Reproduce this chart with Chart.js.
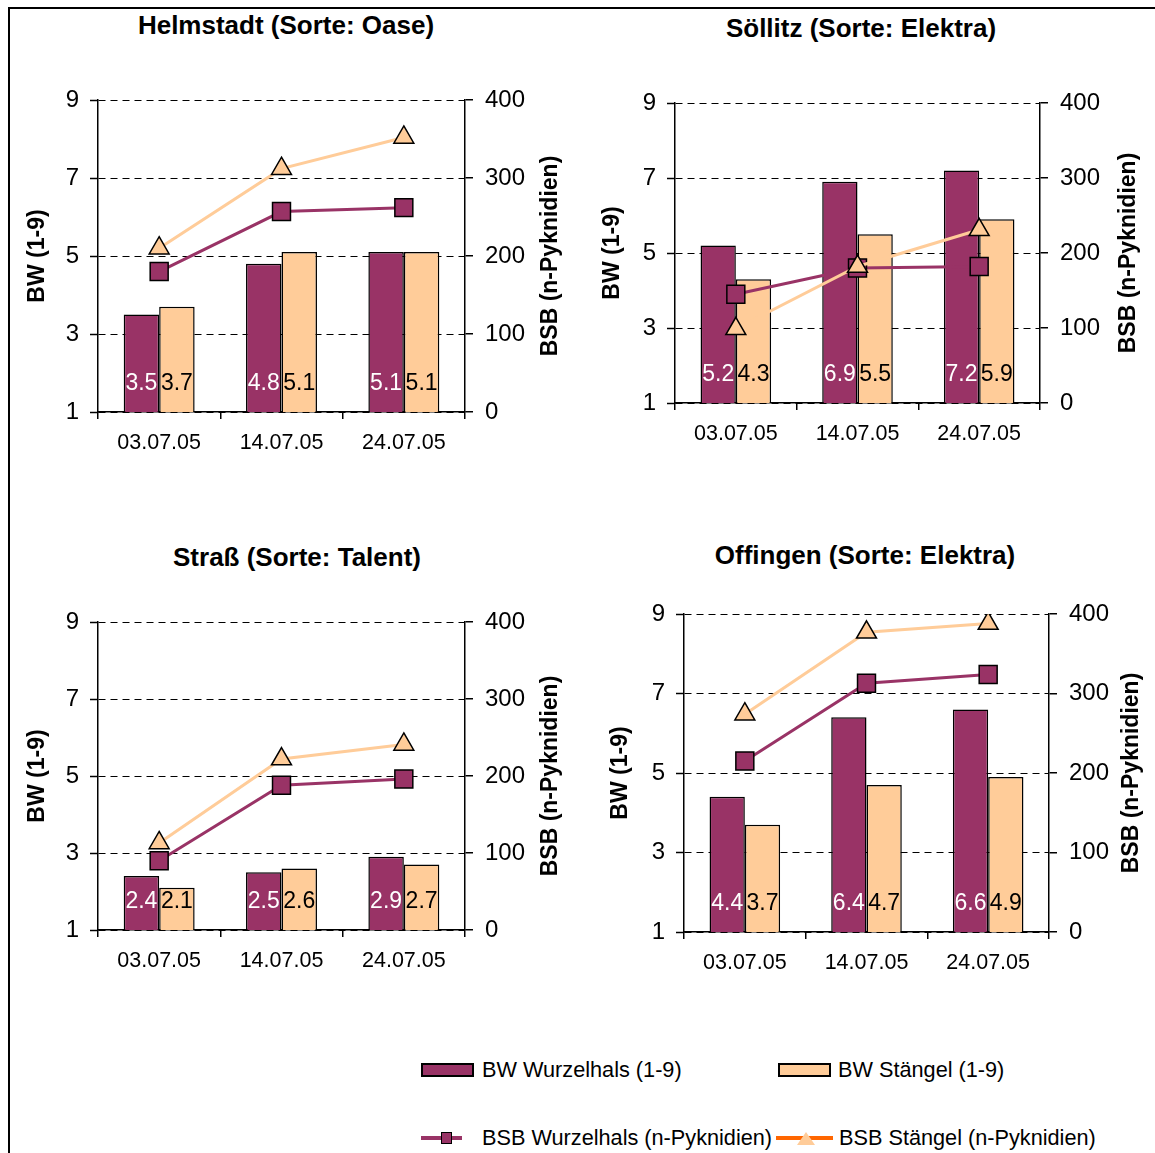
<!DOCTYPE html>
<html>
<head>
<meta charset="utf-8">
<script src="https://cdn.jsdelivr.net/npm/chart.js@4.4.0/dist/chart.umd.min.js"></script>
<style>
  body { margin: 0; background: #fff; }
  #page { position: relative; width: 1155px; height: 1153px; overflow: hidden; font-family: "Liberation Sans", Arial, sans-serif; color: #000; }
  #frame { position: absolute; left: 8px; top: 7px; width: 1200px; height: 1200px; border-left: 2px solid #000; border-top: 2px solid #000; }
  canvas { position: absolute; }
  .title { position: absolute; font-weight: bold; font-size: 26px; line-height: 30px; white-space: nowrap; transform: translateX(-50%); }
  .leg { position: absolute; font-size: 21.7px; line-height: 26px; white-space: nowrap; }
  .box { position: absolute; box-sizing: border-box; border: 2px solid #000; }
</style>
</head>
<body>
<div id="page">
  <div id="frame"></div>
</div>
<script>
// Data
const dates = ['03.07.05', '14.07.05', '24.07.05'];
const sites = ['Helmstadt (Sorte: Oase)', 'Söllitz (Sorte: Elektra)', 'Straß (Sorte: Talent)', 'Offingen (Sorte: Elektra)'];
const bwWurzelhals = [[3.5, 4.8, 5.1], [5.2, 6.9, 7.2], [2.4, 2.5, 2.9], [4.4, 6.4, 6.6]];
const bwStaengel = [[3.7, 5.1, 5.1], [4.3, 5.5, 5.9], [2.1, 2.6, 2.7], [3.7, 4.7, 4.9]];
const bsbWurzelhals = [[180, 257, 262], [145, 180, 182], [90, 188, 196], [215, 313, 324]];
const bsbStaengel = [[210, 312, 352], [99, 182, 231], [113, 222, 241], [274, 377, 388]];
const bwTicks = [1, 3, 5, 7, 9];
const bsbTicks = [0, 100, 200, 300, 400];

const PURPLE = '#993366';
const PEACH = '#FFCC99';

// Placement of each panel on the page (axis positions, axis-title centres, title centre)
const frames = [
  { left: 98, right: 465, top: 100, bottom: 412, ltx: 38, rtx: 551, tx: 286, ty: 25 },
  { left: 675, right: 1040, top: 103, bottom: 403, ltx: 613, rtx: 1129, tx: 861, ty: 28 },
  { left: 98, right: 465, top: 622, bottom: 930, ltx: 38, rtx: 551, tx: 297, ty: 557 },
  { left: 684, right: 1049, top: 614, bottom: 932, ltx: 621, rtx: 1132, tx: 865, ty: 555 }
];

Chart.defaults.font.family = '"Liberation Sans", Arial, sans-serif';
Chart.defaults.color = '#000';

// Value labels sitting near the bar base
const barLabels = {
  id: 'barLabels',
  afterDatasetsDraw(chart) {
    const ctx = chart.ctx;
    const y = chart.scales.y.bottom - 28;
    ctx.save();
    ctx.font = '23px "Liberation Sans", Arial, sans-serif';
    ctx.textAlign = 'center';
    ctx.textBaseline = 'middle';
    chart.data.datasets.forEach((ds, i) => {
      if (ds.type !== 'bar') return;
      ctx.fillStyle = ds.labelColor;
      chart.getDatasetMeta(i).data.forEach((bar, j) => {
        ctx.fillText(ds.data[j].toFixed(1), bar.x, y);
      });
    });
    ctx.restore();
  }
};

// Right axis title, read bottom-to-top like the left one
const rightTitle = {
  id: 'rightTitle',
  afterDraw(chart) {
    const s = chart.scales.y1;
    const ctx = chart.ctx;
    ctx.save();
    ctx.translate(s.right - 14, (s.top + s.bottom) / 2);
    ctx.rotate(-Math.PI / 2);
    ctx.font = 'bold 23px "Liberation Sans", Arial, sans-serif';
    ctx.fillStyle = '#000';
    ctx.textAlign = 'center';
    ctx.textBaseline = 'middle';
    ctx.fillText('BSB (n-Pyknidien)', 0, 0);
    ctx.restore();
  }
};

function makeChart(i) {
  const f = frames[i];
  const page = document.getElementById('page');
  const lw = f.left - (f.ltx - 14);
  const rw = (f.rtx + 14) - f.right;
  const padTop = 30, xh = 50;

  const title = document.createElement('div');
  title.className = 'title';
  title.textContent = sites[i];
  title.style.left = f.tx + 'px';
  title.style.top = (f.ty - 15) + 'px';
  page.appendChild(title);

  const canvas = document.createElement('canvas');
  canvas.width = lw + (f.right - f.left) + rw;
  canvas.height = padTop + (f.bottom - f.top) + xh;
  canvas.style.left = (f.left - lw) + 'px';
  canvas.style.top = (f.top - padTop) + 'px';
  page.appendChild(canvas);

  new Chart(canvas.getContext('2d'), {
    data: {
      labels: dates,
      datasets: [
        {
          type: 'line', label: 'BSB Stängel (n-Pyknidien)', data: bsbStaengel[i], yAxisID: 'y1',
          borderColor: PEACH, borderWidth: 3, tension: 0,
          pointStyle: 'triangle', pointRadius: 11.5, pointBackgroundColor: PEACH,
          pointBorderColor: '#000', pointBorderWidth: 1.5, order: 0
        },
        {
          type: 'line', label: 'BSB Wurzelhals (n-Pyknidien)', data: bsbWurzelhals[i], yAxisID: 'y1',
          borderColor: PURPLE, borderWidth: 3, tension: 0,
          pointStyle: 'rect', pointRadius: 12.7, pointBackgroundColor: PURPLE,
          pointBorderColor: '#000', pointBorderWidth: 1.5, order: 1
        },
        {
          type: 'bar', label: 'BW Wurzelhals (1-9)', data: bwWurzelhals[i], yAxisID: 'y',
          backgroundColor: PURPLE, borderColor: '#000', borderWidth: 1.5,
          barPercentage: 1, categoryPercentage: 0.58, labelColor: '#fff', order: 2
        },
        {
          type: 'bar', label: 'BW Stängel (1-9)', data: bwStaengel[i], yAxisID: 'y',
          backgroundColor: PEACH, borderColor: '#000', borderWidth: 1.5,
          barPercentage: 1, categoryPercentage: 0.58, labelColor: '#000', order: 2
        }
      ]
    },
    options: {
      responsive: false,
      animation: false,
      layout: { autoPadding: false, padding: { top: padTop, left: 0, right: 0, bottom: 0 } },
      plugins: { legend: { display: false }, tooltip: { enabled: false } },
      scales: {
        x: {
          type: 'category',
          offset: true,
          grid: { offset: true, drawOnChartArea: false, color: '#000', tickLength: 7, lineWidth: 1.5 },
          border: { color: '#000', width: 1.5 },
          ticks: { color: '#000', font: { size: 21.5 }, padding: 11, maxRotation: 0 },
          afterFit(s) { s.height = xh; }
        },
        y: {
          position: 'left',
          min: 1, max: 9,
          afterBuildTicks(s) { s.ticks = bwTicks.map(v => ({ value: v })); },
          grid: { color: '#000', lineWidth: 1, tickLength: 8, tickColor: '#000', tickWidth: 1.5 },
          border: { color: '#000', width: 1.5, dash: [7, 5] },
          ticks: { color: '#000', font: { size: 24 }, padding: 11 },
          title: { display: true, text: 'BW (1-9)', color: '#000', font: { size: 23, weight: 'bold' }, padding: { top: 0, bottom: 0 } },
          afterFit(s) { s.width = lw; }
        },
        y1: {
          position: 'right',
          min: 0, max: 400,
          afterBuildTicks(s) { s.ticks = bsbTicks.map(v => ({ value: v })); },
          grid: { drawOnChartArea: false, color: '#000', tickLength: 8, lineWidth: 1.5 },
          border: { color: '#000', width: 1.5 },
          ticks: { color: '#000', font: { size: 24 }, padding: 12 },
          afterFit(s) { s.width = rw; }
        }
      }
    },
    plugins: [barLabels, rightTitle]
  });
}

// Shared legend below the panels
function makeLegend() {
  const page = document.getElementById('page');
  const add = (html) => page.insertAdjacentHTML('beforeend', html);
  add(`<div class="box" style="left:421px;top:1063px;width:53px;height:14px;background:${PURPLE}"></div>`);
  add(`<div class="leg" style="left:482px;top:1057px">BW Wurzelhals (1-9)</div>`);
  add(`<div class="box" style="left:778px;top:1063px;width:53px;height:14px;background:${PEACH}"></div>`);
  add(`<div class="leg" style="left:838px;top:1057px">BW Stängel (1-9)</div>`);
  add(`<div style="position:absolute;left:421px;top:1136px;width:41px;height:4px;background:${PURPLE}"></div>`);
  add(`<div class="box" style="left:441px;top:1132px;width:11px;height:12px;background:${PURPLE};border-width:1.5px"></div>`);
  add(`<div class="leg" style="left:482px;top:1125px">BSB Wurzelhals (n-Pyknidien)</div>`);
  add(`<div style="position:absolute;left:776px;top:1136px;width:57px;height:4px;background:#FF6600"></div>`);
  add(`<div style="position:absolute;left:797px;top:1132px;width:0;height:0;border-left:9px solid transparent;border-right:9px solid transparent;border-bottom:13px solid ${PEACH}"></div>`);
  add(`<div class="leg" style="left:839px;top:1125px">BSB Stängel (n-Pyknidien)</div>`);
}

sites.forEach((s, i) => makeChart(i));
makeLegend();
</script>
</body>
</html>
